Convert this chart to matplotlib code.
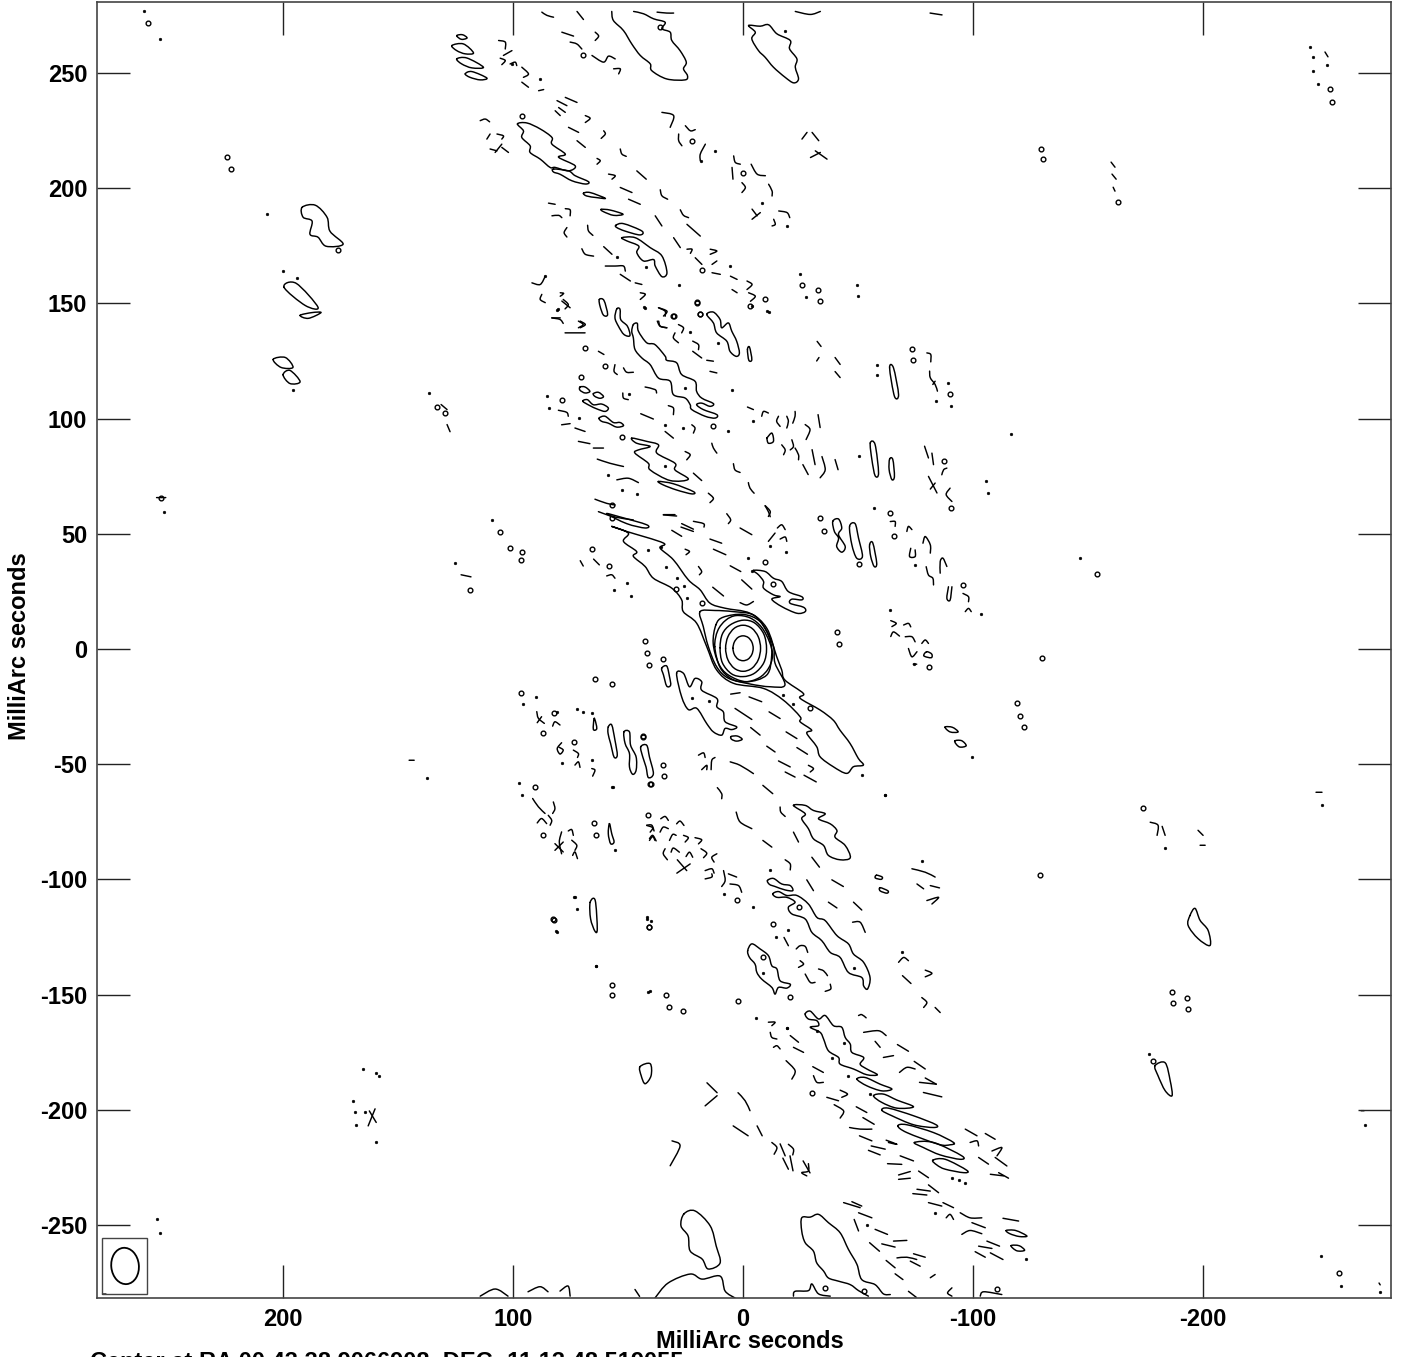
from matplotlib import pyplot as plt
from matplotlib.patches import Ellipse, PathPatch, Rectangle
from matplotlib.path import Path

# everything in milliarcsec offsets (RA, Dec)

X_TICKS = [200, 100, 0, -100, -200]
Y_TICKS = [250, 200, 150, 100, 50, 0, -50, -100, -150, -200, -250]
X_LABEL = "MilliArc seconds"
Y_LABEL = "MilliArc seconds"
CENTER_TEXT = "Center at RA 00 43 38.9066908, DEC -11 13 48.519055"

CORE_CONTOURS = [
    [(4.4, 0.3), (3.8, 3.0), (2.2, 5.0), (0, 5.7), (-2.2, 5.0), (-3.8, 3.0), (-4.4, 0.3), (-3.8, -2.4), (-2.2, -4.4), (0, -5.1), (2.2, -4.4), (3.8, -2.4)],
    [(7.6, 0.3), (6.6, 5.3), (3.8, 9), (0, 10.3), (-3.8, 9), (-6.6, 5.3), (-7.6, 0.3), (-6.6, -4.7), (-3.8, -8.4), (0, -9.7), (3.8, -8.4), (6.6, -4.7)],
    [(10, 0.5), (9, 6.5), (5.5, 10.5), (0, 12.5), (-5, 11.3), (-9, 6.5), (-10.2, 0), (-9, -6), (-5, -10.5), (0, -12), (5, -10.8), (9, -6)],
    [(12.3, 1), (11, 8), (7.5, 12.5), (3, 14.5), (-3, 13.5), (-8, 9.5), (-11.5, 3), (-12.8, -3), (-11, -8.5), (-7, -12.5), (-1, -14.3), (5, -13), (10, -8)],
    [(11.8, 10.5), (8.6, 13.8), (-0.1, 15), (-7.4, 11.9), (-11.7, 4), (-12.4, -3.3), (-10.3, -11.3), (-1.6, -14.2), (6.4, -11.3), (10.7, -6.2), (13, 2.5)],
    [(18.7, 16.2), (12.2, 16.7), (4.2, 16.2), (-4.5, 14.8), (-9.5, 9), (-13.2, 1), (-13.9, -6.2), (-18.2, -15.6), (-11.7, -16.4), (-3, -15.2), (6.4, -12.7), (11.5, -7.7), (15.1, 1), (17.3, 9.7)],
    [(57.1, 53.2), (50.6, 51), (34.7, 46), (36.1, 43.8), (30.3, 38.7), (23.8, 30), (18.7, 25.7), (14.4, 19.9), (7.9, 17.7), (-3, 15.5), (-10.3, 9), (-14.6, -3.3), (-16.8, -9.1), (-18.2, -13.5), (-26.2, -19.3), (-24.8, -21.4), (-33.5, -26.5), (-39.2, -30.9), (-42.1, -35.2), (-46.5, -41), (-50.1, -47.5), (-52.3, -50.4), (-48, -51.1), (-45, -54), (-39.2, -51.1), (-33.5, -46.8), (-32, -42.4), (-27.7, -36.6), (-29.8, -35.2), (-24.8, -31.6), (-24.8, -29.4), (-17.5, -22.2), (-8.8, -17.1), (4.2, -14.9), (11.5, -9.1), (15.8, 1), (20.2, 11.2), (26, 16.2), (26.7, 21.3), (31, 26.4), (39, 30.7), (42.6, 35.8), (47.7, 40.2), (46.3, 42.3), (52, 46.7), (49.9, 50.3)],
]

NORTH_BLOBS = [
    [(-2.4, 270.6), (-7.4, 270.3), (-11.1, 270.9), (-14.7, 267), (-20.5, 264.1), (-20.2, 260.5), (-23.4, 256.1), (-22.7, 252.5), (-24.1, 247.4), (-22, 245.7), (-18.3, 248.1), (-13.2, 252.5), (-9.6, 256.8), (-6.7, 259.7), (-3.8, 264.8), (-5.3, 267.7)],
    [(98.1, 227.9), (94, 228.3), (88.2, 225.7), (83.1, 222), (83.1, 219.1), (77.3, 214.8), (80.2, 213.4), (73, 209.7), (75.9, 207.5), (81.7, 209), (83.9, 209), (88.2, 212.6), (92.6, 215.5), (92.6, 218.4), (96.2, 222), (95.5, 224.9)],
    [(82.4, 208.3), (75.9, 207.5), (73, 205.4), (67.2, 202.8), (68.6, 201.8), (74.4, 203.2), (79.5, 206), (82.4, 207)],
    [(69.4, 197.8), (66.5, 198.1), (59.9, 195.6), (63.6, 195.9), (68, 196.6)],
    [(61.7, 190.8), (57.8, 190.5), (52.2, 188.7), (56.3, 188.2), (60.7, 189.8)],
    [(55.3, 183.9), (52, 184.6), (44, 181.4), (44.9, 179.7), (51.4, 181.4), (54.9, 182.9)],
    [(52.7, 178.5), (46.9, 178.5), (40.4, 174.2), (35.3, 170.6), (33.1, 163.3), (35.3, 161.6), (38.2, 166.2), (38.9, 169), (43.3, 168.4), (46.2, 172), (45.4, 174.9), (50.5, 177.1)],
    [(126.6, 261.9), (121.6, 262.6), (117.2, 258.7), (120.8, 258.3), (124.5, 259.7)],
    [(124.5, 256.1), (120.1, 256.5), (112.9, 252.5), (117.9, 252.2), (122.3, 253.9)],
    [(120.8, 249.6), (117.9, 250.6), (111.4, 247.8), (114.3, 247), (118.7, 248.1)],
    [(124.5, 266.2), (122, 266.6), (120, 265.2), (122.5, 264.6)],
    [(191.7, 191.7), (186, 192.6), (180.9, 187.4), (179.6, 181.3), (173.9, 175.7), (181.3, 174.8), (184.8, 178.7), (188.3, 180), (187.4, 185.7), (191.3, 187.4)],
    [(199.6, 157), (194.3, 158.7), (184.8, 148.3), (190.4, 149.1)],
    [(192.6, 144.8), (187.4, 146), (183.5, 146), (189, 143.5)],
    [(204.3, 125.7), (199, 126.5), (195.7, 122.2), (200.9, 122.2)],
    [(200, 119), (197, 120.9), (192.6, 116), (197, 115.2)],
    [(54.9, 147.6), (53.5, 147.4), (53.2, 143), (50.3, 140.1), (49.2, 136), (51.8, 136.5), (54.2, 140.1), (55.7, 143.7)],
    [(47.7, 140.8), (46, 141.3), (45.5, 137.9), (41.9, 132.9), (38.3, 132.1), (33.9, 127.1), (33.2, 125.3), (28.9, 124.2), (26.7, 119.1), (20.9, 116.2), (20.2, 111.8), (18, 108.9), (12.9, 106.5), (14.4, 105.3), (18, 106.7), (20.2, 106), (17.3, 103.9), (11.4, 101.7), (12.2, 100.2), (16.5, 101), (22.3, 103.9), (23, 106), (25.2, 108.9), (30.3, 110.4), (31.7, 116.2), (36.8, 117.6), (40.4, 123.4), (44, 126.3), (47, 130), (47.7, 135), (48.4, 137.9)],
    [(15.8, 145.2), (12.9, 146.2), (10, 143), (9.3, 139.4), (6.4, 141.5), (4.9, 137.9), (2.8, 133.6), (1.6, 128.5), (3, 127), (5.7, 129.2), (7.1, 133.6), (11.5, 137.2), (12.9, 141.5)],
    [(-1.9, 130), (-2.8, 131), (-3.8, 125.6), (-2.5, 125.3)],
    [(62.5, 151.7), (60.5, 151.3), (58.9, 145.2), (60.7, 144.9), (62.2, 148.8)],
    [(48.4, 91.5), (41.9, 90.1), (36.8, 88.6), (37.5, 85), (29.6, 80.6), (29.6, 77.7), (23.8, 73.7), (31.7, 73.1), (40.4, 77.7), (41.2, 80.6), (47, 85), (45.5, 86.4), (40.4, 87.9), (46.3, 89.3)],
    [(36.8, 72.7), (30.3, 71.7), (21.6, 68.3), (22.3, 67.3), (28.9, 69), (34.7, 71.2)],
    [(70.9, 113.7), (68.7, 113.7), (66.6, 111.8), (68.7, 111.1), (70.9, 112.3)],
    [(65.1, 110.8), (62.9, 111.4), (60.7, 109.6), (62.2, 108.8), (64.4, 109.6)],
    [(69.7, 107.5), (67.7, 108.2), (65.1, 106), (61.5, 106.3), (58.6, 104.6), (60, 103.1), (63.6, 104.2), (66.6, 105.6)],
    [(62.6, 100.2), (60, 101), (56.4, 98.3), (53.5, 98.3), (52, 96.9), (55, 96.3), (58.6, 98), (61.5, 98.8)],
    [(59.3, 58.7), (53.5, 57.3), (41.9, 53.9), (42.6, 52.5), (50.6, 54.4)],
    [(-4.5, 34.1), (-9.6, 33.6), (-13.2, 30.7), (-16.8, 29.3), (-19.7, 24.9), (-25.5, 22.7), (-25.5, 21.3), (-21.2, 21.6), (-20.5, 19.8), (-26.3, 18.1), (-27, 16.2), (-23.4, 15.5), (-16.8, 18.4), (-12.5, 21.6), (-16.1, 22.7), (-13.2, 23.5), (-8.9, 26.4), (-8.9, 29.3), (-6.7, 32.2)],
    [(-39, 55.4), (-41.5, 56.4), (-42.9, 52.5), (-41.5, 49.6), (-44.4, 44.5), (-42.9, 42), (-40.7, 44.5), (-41.5, 48.1), (-39.7, 51)],
    [(-46.3, 53.2), (-48.7, 54.4), (-50.2, 48.1), (-51.9, 40.2), (-49.4, 39.4), (-47.3, 45.2)],
    [(-55, 45.2), (-56.4, 46), (-58.1, 37.2), (-57, 35.8), (-55.5, 40.1)],
    [(-63.7, 122), (-65.4, 122), (-67.6, 110.4), (-65.8, 109.7)],
    [(-55.3, 89.4), (-57.4, 88.7), (-58.9, 76.4), (-57.4, 75.2), (-56, 82.2)],
    [(-63.7, 82.4), (-65.1, 82.2), (-65.8, 74.9), (-64.7, 73.5), (-63.5, 77.8)],
]

SOUTH_BLOBS = [
    [(28.9, -10.6), (25.9, -10.6), (23.3, -16.4), (20.9, -12.8), (18, -14.2), (18, -17.9), (11.4, -21.5), (11.4, -25.1), (8.6, -27.3), (7.8, -31.6), (2.8, -33.8), (4.9, -35), (7.8, -34.5), (9.3, -37.4), (12.9, -36), (15.8, -32.4), (20.1, -25.8), (23.8, -26.3), (26.7, -20.8)],
    [(5.2, -38), (2.5, -37.8), (0.4, -39.2), (2.8, -40), (5, -39.2)],
    [(58.6, -33.8), (57.1, -33), (55.7, -39.6), (54.7, -46.1), (56.1, -46.9), (57.6, -41), (58.7, -36.7)],
    [(51.8, -36), (49.4, -36), (48.9, -41.8), (46.5, -46.9), (46.5, -52.6), (48, -54.4), (49.4, -51.2), (49.4, -45.4), (51.3, -41)],
    [(44.5, -42.5), (41.9, -41.8), (40.7, -46.9), (39, -54.1), (41.2, -55.8), (42.2, -51.2), (43.6, -46.9)],
    [(35.4, -8.4), (33.2, -7.4), (32, -12), (31.5, -15.7), (33.2, -16.1), (34.6, -11.3)],
    [(-21.9, -67.9), (-27, -67.9), (-30.6, -70.1), (-35.7, -71.5), (-32.8, -73.7), (-37.9, -75.9), (-40.8, -78.8), (-40, -81.7), (-44.4, -85.3), (-46.6, -90.6), (-42.2, -91.5), (-37.1, -89.6), (-35, -85.3), (-30.6, -82.4), (-28.4, -78), (-25.5, -73.7), (-27, -71.5)],
    [(-10.6, -100.5), (-13.2, -99.6), (-16.8, -102), (-20.5, -102.7), (-21.6, -104.9), (-18.3, -104.6), (-13.9, -103.1), (-11.5, -102.2)],
    [(-12.9, -106.3), (-15.4, -105.3), (-19, -107), (-23.4, -107), (-28.4, -110.7), (-32.1, -116.5), (-35.7, -117.9), (-40.8, -124.4), (-45.8, -128), (-48, -132.4), (-52.4, -136), (-55.2, -142.6), (-54.1, -147.6), (-52.4, -146.2), (-51.6, -142.6), (-45.8, -140.4), (-42.2, -133.9), (-37.9, -131.7), (-34.2, -126.6), (-29.9, -123), (-27, -117.2), (-21.2, -115), (-19.7, -112.1), (-22.6, -109.9), (-19, -107.8), (-14.7, -107.8)],
    [(-2, -131), (-3.8, -128), (-7.4, -130.2), (-11, -133.1), (-12.5, -137.5), (-14.7, -138.9), (-16.1, -144), (-20.5, -145.5), (-19, -147.2), (-15.4, -146.9), (-13.9, -149.8), (-12.5, -146.9), (-8.1, -143.3), (-6, -140.4), (-5.2, -136.8), (-2.8, -133.9)],
    [(-27, -158.4), (-29.2, -157.2), (-32.8, -160.6), (-35.7, -159.1), (-39.3, -163.5), (-42.9, -164.2), (-44.4, -168.6), (-46.6, -171.5), (-47.3, -175.1), (-52.4, -177.3), (-50.9, -180.2), (-53.8, -182.3), (-58.4, -184.8), (-53.8, -184.8), (-48, -182.3), (-42.2, -180.2), (-41.5, -177.3), (-37.1, -174.4), (-35, -169.3), (-33.5, -166.4), (-29.2, -164.2), (-32.8, -163.5), (-32, -161.3), (-28.4, -160.6)],
    [(-49.5, -186.7), (-53.1, -186), (-59.6, -188.9), (-64.7, -191), (-60.3, -191.8), (-53.8, -189.6)],
    [(-56.7, -193.9), (-61, -193.2), (-66.9, -195.8), (-74.1, -198.7), (-66.9, -199.3), (-60.3, -196.8)],
    [(-60.3, -200.2), (-63.2, -199.3), (-74.1, -202.6), (-83.9, -206.5), (-82.8, -207.7), (-74.1, -206.5), (-64.7, -202.6)],
    [(-67.3, -207), (-71.2, -206.5), (-82.8, -209.9), (-91.5, -214.2), (-90, -215.2), (-85, -215), (-71.2, -209.9)],
    [(-74.5, -214.2), (-82.8, -214.2), (-95.1, -220), (-94.4, -221.5), (-85.7, -219.6), (-78.4, -216.4)],
    [(-82.5, -221.9), (-87.9, -221.5), (-97.3, -226.3), (-95.9, -227.3), (-87.9, -225.8), (-84.3, -224)],
    [(25.7, -245.2), (20.9, -243.9), (14.3, -250.4), (11.7, -259.1), (10, -266.5), (15.2, -269.1), (17.8, -264.8), (23, -261.3), (23.9, -254.8), (27, -250.4)],
    [(44.8, -181.3), (40.4, -180), (40, -185.2), (42.6, -188.7), (44.3, -185.2)],
    [(-179.1, -180.9), (-183.5, -179.6), (-185.7, -187.4), (-186.5, -193.9), (-183.5, -191.7), (-180.4, -185.2)],
    [(-194.3, -115.7), (-196.5, -112.6), (-198.7, -117.8), (-202.2, -122.2), (-203, -128.7), (-197.8, -125.7), (-193.5, -120)],
    [(66.5, -110), (64.3, -109.1), (63.4, -121.5), (64.4, -122.5), (66.3, -117.1)],
    [(58.1, -75.8), (57.1, -80.2), (56.1, -83.8), (57.6, -84.5), (58.6, -80.2)],
    [(64.7, -30.1), (63.6, -34.5), (65.1, -34.9)],
    [(-114.4, -252.4), (-118.5, -252.4), (-123.4, -254.8), (-120, -255), (-116, -253.8)],
    [(-116.5, -259), (-120, -259), (-122.4, -261), (-119, -261.2)],
    [(-87.8, -33.9), (-91, -34), (-93.5, -36), (-90, -36)],
    [(-92, -40), (-95, -39.8), (-97, -42), (-94, -42.5)],
    [(-79.8, -1.2), (-82, -2.2), (-81.8, -3.8), (-78.6, -3)],
    [(-58, -98.2), (-60.5, -99), (-60, -100), (-57.5, -99.4)],
    [(-59.6, -103.6), (-63, -105), (-62.5, -106), (-59.6, -105)],
]

# contours that run off the frame
OPEN_EDGE_CONTOURS = [
    [(57.1, 276.7), (56.4, 272.8), (52, 268.4), (48.4, 262.6), (44.7, 257.6), (40.4, 254), (39.7, 251), (33.2, 247.4), (25.2, 247), (24.2, 248.9), (25.9, 251.8), (24.7, 254.7), (27.4, 259.7), (31, 264.1), (31.7, 267.7), (35.3, 269.2), (33.9, 272), (38.9, 273.5), (43.3, 275.7), (47.6, 276.7)],
    [(-54.5, -280.9), (-50.2, -278.5), (-46.6, -275.9), (-41.5, -274.4), (-37.1, -273), (-35, -270), (-32, -266.4), (-30.6, -261.4), (-27, -257.7), (-25.5, -252.6), (-25.5, -246.9), (-29.2, -246.6), (-32.8, -245.4), (-37.1, -249), (-42.2, -253.4), (-45.8, -260.6), (-49.5, -267.1), (-51.6, -273.7), (-57.4, -275.9), (-61, -279.9), (-64, -280.2)],
    [(-21.9, -280.9), (-22.6, -278.8), (-28.4, -278.5), (-29.9, -275.6), (-32.8, -279.9), (-37.9, -280.9)],
    [(38.3, -281.7), (32.6, -275.2), (23, -271.3), (17.8, -273.5), (10, -272.2), (7.8, -278.7), (3.5, -281.7)],
    [(114.3, -280.9), (107.8, -277.8), (102.2, -280.9)],
]

SHORT_ARCS_NORTH = [
    [(87.5, 276.4), (85.3, 275), (82.4, 274.2)], [(72.2, 276.7), (69.4, 273.2)], [(37.4, 276.4), (33.2, 276), (30.2, 276)],
    [(-22.7, 276.7), (-29.2, 275.4), (-33.6, 276.7)], [(78.8, 267.7), (73.7, 266)], [(64.3, 267.7), (62.8, 266), (64.3, 264.1)],
    [(75.2, 263.4), (72.3, 262.6), (70.1, 260.4)], [(65.7, 257.6), (60.7, 254.7), (58.5, 257.3), (55.6, 256.1)], [(56.3, 251.8), (53.4, 251.8), (54.1, 249.6)],
    [(106.3, 264.1), (103.4, 263.4), (103.4, 260.4)], [(100.5, 259.7), (104.2, 257.6)], [(105.6, 256.4), (103.4, 255.4), (104.9, 253.6)],
    [(101.3, 253.9), (99.1, 254.7), (98.4, 253.2)], [(96.2, 252.5), (93.3, 249.6), (95.5, 248.1)], [(96.2, 246), (93.3, 243.8)],
    [(88.9, 242.3), (86.7, 242.8)], [(80.9, 238), (76.6, 235.8)], [(77.3, 239.4), (72.2, 237.2)], [(81.7, 233.6), (79.5, 231.5)], [(80.2, 235), (77.3, 232.9)],
    [(68.6, 231.5), (66.5, 230.3), (68.6, 228.5)], [(75.9, 226.4), (71.5, 224.2)], [(60.6, 224.9), (59.9, 223.5), (61.7, 221.6)], [(72.2, 220.6), (68.6, 217.7)],
    [(53.4, 217), (52.7, 214.8), (50.8, 213.8)], [(63.5, 212.9), (62.1, 211.9), (63.5, 210.4)], [(46.2, 207.5), (42.1, 203.9)], [(58.5, 206.1), (55.6, 205.4), (57, 203.9)],
    [(53.4, 200.3), (48.3, 198.1)], [(49.8, 195.2), (44.7, 193)], [(36, 199.3), (35.3, 196.7), (32.8, 195.2)], [(38.2, 188), (35.3, 183.6)],
    [(27.3, 190.6), (25.9, 188.2), (23.7, 187.2)], [(84.6, 193.5), (81.7, 193)], [(83.1, 188), (80.2, 188.2), (78.8, 187.2)], [(77.3, 191.1), (75.2, 190.6), (75.2, 188)],
    [(76.6, 182.9), (77.8, 180.7), (76.6, 178.8)], [(67.6, 183.9), (67.2, 181.4), (65.3, 179.5)], [(70.1, 173.7), (68.6, 171.3), (65, 170.5)], [(60.6, 174.6), (57, 171.3)],
    [(30.2, 178.5), (27.3, 174.2)], [(24.4, 184.3), (18.6, 179.2)], [(24.4, 173.5), (22.2, 173.5), (22.9, 171.7)], [(14.3, 173.5), (11.4, 172.7), (14.3, 171.3)],
    [(20.8, 169.8), (17.9, 166.9)], [(11.4, 168.4), (13.5, 166.9)], [(13.5, 163.3), (9.9, 162.6)], [(59.9, 166.2), (55.6, 166.2), (52, 166.2), (51.2, 164)],
    [(53.4, 162.6), (49, 159.7)], [(46.9, 158.9), (44, 158.2)], [(44.7, 154.6), (42.5, 153.9), (44.7, 151.7)], [(5.5, 161.8), (2.6, 160.4)], [(4.8, 156), (2.6, 154.6)],
    [(-1.7, 159.7), (-3.9, 158.2), (-1.7, 156)], [(-2.4, 154.6), (-5.3, 153.1), (-3.2, 150.9)], [(91.8, 158.9), (88.2, 158.2), (86, 161.8)], [(87.5, 153.9), (88.2, 151.7), (86, 150.3)],
    [(79.5, 154.6), (78, 154.3), (79.5, 153.1)], [(78.8, 151), (75.2, 148.1)], [(83.1, 143.7), (79.5, 143.7)], [(70.8, 142.3), (68.6, 140.8), (70.8, 139.4)],
    [(36.7, 148.1), (33.1, 146.6), (34.6, 144.5)], [(36.7, 142.3), (36, 140.1), (33.1, 139.4)], [(35.3, 232.9), (30.2, 231.5), (31.7, 226.4)], [(25.1, 227.1), (22.9, 224.9), (20.8, 225.4)],
    [(28, 223.5), (28, 220.6), (26.6, 218.4)], [(16.4, 219.1), (18.6, 214.8), (18.6, 211.9)], [(-25.6, 221.3), (-27.8, 224.2)], [(-30, 224.2), (-32.9, 220.6)],
    [(-29.3, 213.3), (-33.6, 215.5)], [(-31.4, 216.2), (-36.5, 212.6)], [(4.1, 214), (3.4, 211.2), (1.2, 210.4)], [(4.8, 209), (4.4, 203.9)],
    [(-3.5, 210.4), (-6.1, 206.1), (-9.7, 205.4)], [(0.5, 202.4), (-1, 200.3), (0.5, 198.1)], [(-11.1, 201.7), (-12.6, 198.8), (-12.6, 196.6)],
    [(-3.9, 190.9), (-6.1, 188)], [(-7.5, 189.4), (-3.9, 186.5)], [(-15.5, 190.1), (-19.1, 189.4), (-20.3, 187.2)], [(-13.3, 186.5), (-14, 184.3), (-12.6, 183.6)],
    [(114.3, 229.3), (112.1, 230), (110.2, 228.8)], [(111.4, 221.3), (110, 223.5)], [(107, 223.5), (104.2, 222.7), (104.9, 221.3)], [(110, 217), (107, 216.2)],
    [(107.8, 215.5), (104.9, 219.1)], [(104.9, 217.7), (102, 215.5)], [(-81.3, 276), (-86.5, 275.2)],
    [(78.2, 151.7), (76, 149.5), (77.4, 147.6)], [(83.2, 143.7), (79.6, 143), (78.2, 141.3)], [(71.6, 142.3), (69.5, 140.8), (71.6, 139.4)], [(77.4, 137.2), (73.1, 137.2), (68.7, 137.2)],
    [(62.9, 129.2), (60.5, 127.8)], [(55.7, 123.4), (56.1, 120.5), (54.7, 119.1)], [(52, 122), (50.6, 120.1), (47.7, 120.1)], [(36.8, 148.1), (33.9, 146.6), (33.9, 144.4)],
    [(37.3, 142.3), (36.1, 140.1), (33.2, 139.4)], [(28.1, 140.8), (25.9, 139.4), (26.7, 137.2)], [(29.6, 137.2), (30.3, 135), (28.1, 132.9)], [(21.9, 133.6), (19.4, 132.1), (19.4, 129.9)],
    [(21.9, 129.2), (18, 126.3)], [(15.8, 125.3), (12.9, 124.9)], [(14.4, 120.5), (11.4, 119.8)], [(52.3, 111.1), (52, 108.9), (49.9, 108.2)], [(42.6, 113.7), (38.3, 112.6), (37.6, 111.1)],
    [(32.5, 105.6), (30.3, 104.6), (30.3, 101.7)], [(44.5, 102.1), (39, 99.8)], [(33.9, 94.4), (30.3, 91.5)], [(22.3, 97.3), (20.9, 95.9), (21.6, 93.7)],
    [(80.3, 103.6), (76.7, 102.7), (76, 101)], [(78.9, 97.3), (75.2, 97.8)], [(73.1, 95.9), (68.7, 94.4)], [(71.6, 90.1), (66.6, 89.1)], [(65.1, 87.2), (60.7, 87.2)],
    [(63.4, 82.4), (57.9, 80.6), (52, 79.2)], [(54.9, 73.4), (49.9, 74.1), (45.5, 72.2)], [(21.6, 76.3), (18, 73.1)], [(25.2, 85.7), (23, 84.3), (24.5, 82.1)],
    [(13.6, 89.3), (12.9, 87.2), (11.4, 85)], [(4.2, 80.4), (3.5, 77.7), (1.3, 76.6)], [(-2.3, 72.2), (-3, 69.8), (-4.8, 67.6)], [(15.1, 67.6), (12.9, 65.4), (14.4, 63.5)],
    [(-9.6, 62.1), (-11, 59.6), (-11.8, 57.4)], [(34.7, 58.2), (28.9, 57.7)], [(62.9, 59.6), (56.4, 57.4), (47.7, 56)], [(64.4, 65), (59.3, 63.2), (55.7, 62.5)],
    [(-1.9, 105), (-4.5, 103.9)], [(-8.1, 101), (-8.9, 103.1), (-11, 102.4)], [(-15.4, 101), (-14.6, 98.8), (-16.1, 96.6)], [(-19, 101), (-19.7, 98.8), (-19, 95.9)],
    [(-22.6, 103.1), (-22.6, 101), (-21.6, 98)], [(-10.3, 91.5), (-12.5, 93.7), (-13.2, 90.1), (-11, 89.3), (-10.3, 91.5)], [(-16.8, 88.6), (-18.3, 86.4), (-17.6, 84.3)],
    [(-21.2, 90.8), (-21.9, 87.9), (-20.5, 86.4)], [(-22.6, 87.2), (-24.1, 84.3), (-24.1, 82.1)], [(-27, 97.4), (-29.1, 95.2), (-27.4, 90.9)], [(-32.6, 101.7), (-33.5, 96.1)],
    [(-30, 86.5), (-31.3, 80)], [(-34.3, 83.5), (-35.7, 77.8), (-33.5, 74.3)], [(-40, 82.2), (-41.3, 77.8)], [(-26, 80), (-28.3, 75.7)],
    [(34.6, 58.3), (29.6, 58.3)], [(26.7, 54.4), (21.6, 52)], [(27, 52.9), (21.6, 51)], [(21.6, 55.4), (17.2, 54.4), (17, 52.9)], [(31, 51.5), (26.7, 48.9)],
    [(7.1, 58.7), (5.4, 56.1), (6.4, 54.4)], [(1.3, 52.5), (-3.8, 49.6)], [(-9.6, 62.2), (-11.8, 59.7), (-11, 57.5)], [(-14.9, 52.5), (-16.8, 53.9), (-18.3, 51.8)],
    [(-13.9, 50.3), (-11, 46.7)], [(-16.1, 47.7), (-18.3, 48.6), (-19, 46.7)], [(14.4, 47.7), (9.3, 45.9)], [(12.9, 43.3), (7.5, 40.9)], [(25.2, 43.3), (23.3, 42.3), (24.8, 40.9)],
    [(19.4, 35.8), (18, 33.6), (19, 32.2)], [(5.6, 36.1), (1, 33.6)], [(0.6, 30), (-3.8, 26)], [(13.2, 26.8), (8.5, 23)], [(1.3, 20.1), (-1.6, 19.1), (-4.5, 20.6)],
    [(59.3, 31.7), (57.1, 32.2), (55.7, 30.7)],
    [(-79.9, 128.5), (-81.6, 127.8), (-81.6, 124.6)], [(-81.1, 120.6), (-81.4, 117.7), (-83.5, 114.8), (-84.5, 111.9)], [(-83.5, 116.2), (-82.5, 114.8)],
    [(-78.9, 88), (-80.6, 82.9)], [(-82.1, 85), (-82.8, 80)], [(-86.4, 75.6), (-87.2, 77.8), (-88.6, 78.5)], [(-80.6, 74.9), (-84.3, 67.7)], [(-83.5, 72), (-81.4, 69.4)],
    [(-90, 69.8), (-88.3, 67), (-90.8, 64)], [(-64, 55.3), (-66.1, 55.3), (-66.1, 53.2)], [(-71.2, 51), (-71.9, 53.2), (-73.4, 51.8)], [(-78.2, 45.9), (-79.2, 48.8), (-81.4, 45.2), (-81.4, 41.6)],
    [(-72.9, 43.7), (-72.4, 40.1), (-74.8, 40.1), (-74.8, 43)], [(-79.6, 35.7), (-80.6, 32.1), (-82.5, 30.7), (-82.8, 27.8)], [(-85.7, 32.9), (-85.7, 37.9), (-86.9, 39.4), (-88.6, 35.8)],
    [(-89.3, 27), (-88.6, 22), (-90, 21.2), (-90.8, 27)], [(-95.6, 24.1), (-98, 22.7), (-98, 20.5)], [(-96.6, 16.2), (-98, 17.6), (-99.2, 16.2)], [(-64.2, 12.3), (-66.6, 11.1), (-64.7, 9.7)],
    [(-64.2, 5.4), (-65.4, 7.4), (-68, 5.6)], [(-69.8, 10.4), (-71.9, 11.1), (-72.9, 9.6)], [(-70.5, 5.3), (-73.4, 5.3), (-74.8, 3.1)], [(-77.7, 2.4), (-79.2, 3.9), (-80.6, 2.4)],
    [(-71.9, 0.2), (-73.4, -3.4), (-75.6, -1.2)], [(-74, -6.6), (-75.5, -6.6)],
    [(-32.2, 133.5), (-33.9, 131.3)], [(-33, 126.5), (-32, 125)], [(-40, 126.5), (-42.2, 123.5)], [(-40, 120.4), (-42.2, 117.8)],
    [(-160, 211.3), (-161.7, 209.1)], [(-160.4, 206.1), (-162.2, 203.9)], [(-160.9, 200.4), (-161.7, 198.7)], [(-253, 259.1), (-254.3, 257)],
    [(131.3, 106.1), (128.7, 103.9)], [(128.7, 97.4), (127.4, 94.3)], [(122.6, 32.2), (118.3, 31.3)], [(255, 65.7), (251, 65.7)],
    [(70.8, 38.3), (69.5, 36)], [(65, 39), (62.5, 36.5)],
]

SHORT_ARCS_SOUTH = [
    [(5.4, -19.6), (1.3, -19)], [(-2.6, -20.8), (-8.1, -22.9)], [(3.5, -25.8), (-3.8, -30.6)], [(-11.3, -27.3), (-16.1, -30.2)], [(-3.3, -34.1), (-7.4, -37.4)],
    [(-18.7, -36), (-23.4, -38.9)], [(-10.3, -42.2), (-13.9, -44.7)], [(-23.4, -42.8), (-28, -45.7)], [(-15.4, -48.6), (-20.5, -51.2)], [(-18.3, -53.4), (-22.6, -55.6)],
    [(-26.5, -54.8), (-31.8, -57.7)], [(-28.4, -50.5), (-30.6, -51.9), (-29.2, -53.4)], [(5.6, -49), (1.3, -50.5), (-4.5, -54.1)], [(-8.6, -59.2), (-12.9, -62.8)],
    [(11.2, -60.2), (9.3, -62.8), (9.3, -65)], [(19.4, -46.1), (17.2, -45.1), (16.5, -47.1)], [(18, -52.4), (15.8, -50.5), (15.8, -52.4)], [(13.9, -52.4), (13.6, -48.3), (12.2, -47.1)],
    [(3, -70.8), (1.3, -75.1), (-3.8, -78)], [(-16.1, -68.6), (-16.4, -70.8), (-18.3, -72.7)], [(-21.9, -79.5), (-24.1, -83.8)], [(-8.6, -83.1), (-12.5, -86)],
    [(-18.3, -91.5), (-20.5, -93.3), (-20.5, -95.9)], [(-29.9, -90.4), (-33.2, -94.7)], [(-27.7, -100.2), (-30.6, -104.9)], [(-38.6, -100.2), (-43.6, -103.1)],
    [(-37.1, -109.9), (-40.8, -112.4)], [(-48, -109.9), (-51.6, -113.3)], [(-47.6, -118.6), (-50.9, -118.6), (-53.1, -123)],
    [(41.9, -76.6), (39.3, -77.6), (40.4, -79.5)], [(35.8, -73.7), (33.9, -72.7), (32.5, -74.4)], [(36.1, -79.5), (34.7, -77.3), (32.5, -78)], [(28.9, -75.9), (27.4, -74.7), (25.7, -76.6)],
    [(40.7, -83.1), (39.3, -81.4), (38.3, -83.1)], [(32, -83.1), (30.6, -80.5), (29.1, -80.9)], [(25.9, -80.9), (23.8, -81.9), (25.2, -83.8)], [(20.9, -81.9), (18, -82.8), (19.4, -84.6)],
    [(33.9, -86.7), (34.7, -88.9), (32.9, -91.5)], [(31.3, -88.2), (30.3, -86.4), (27.7, -88.2)], [(24.8, -90.1), (23.3, -88.2), (21.9, -90.4)], [(18.3, -86.7), (15.8, -88.6), (17.2, -90.6)],
    [(11.4, -88.9), (13.6, -90.4), (12.6, -92.5)], [(28.6, -91.5), (24.5, -96.2)], [(23, -93.3), (28.8, -97.3)], [(16.5, -96.2), (13.6, -95.4), (12.6, -97.3)], [(16.5, -99.8), (13.6, -99), (13.6, -97.6)],
    [(8.5, -96.2), (7.8, -100.5), (9.3, -103.1)], [(6.4, -97.6), (2.8, -99)], [(5.7, -102), (2, -102.7), (0.6, -105.6)], [(-17.8, -125.2), (-19.7, -128.8)],
    [(-23.1, -130.2), (-24.8, -128.8), (-27, -129.1), (-28.1, -131.7)], [(-24.8, -135.3), (-26.3, -136.8), (-24.1, -138.2)], [(-32.8, -138.9), (-35, -139.7), (-36.7, -141.8)],
    [(-27, -141.1), (-29.2, -144.7), (-31.3, -144.7)], [(-37.9, -145.5), (-38.1, -147.6), (-35.7, -148.6)], [(-67.6, -136), (-69.8, -133.9), (-71.9, -135.3)],
    [(-79.2, -139.4), (-82.1, -140.8), (-79.2, -142.3)], [(-69.3, -141.8), (-73, -145.2)], [(-77.7, -151.3), (-79.9, -153.4), (-78.5, -155.6)], [(-83.5, -155.6), (-85.7, -157.8)],
    [(-73.4, -95.4), (-79.2, -96.9), (-83.5, -99)], [(-75.6, -102), (-78.5, -104.1)], [(-81.4, -102.7), (-85.4, -103.7)], [(-79.9, -109.2), (-85, -107.8), (-82.1, -110.7)],
    [(-11, -162), (-13.9, -162), (-12.5, -163.5)], [(-11.8, -166.4), (-12.5, -168.6), (-14.7, -169.3)], [(-13.2, -172.9), (-14.7, -172.2), (-16.1, -173.6)], [(-20.5, -167.8), (-24.1, -170.7)],
    [(-21.9, -172.9), (-26.3, -175.1)], [(-18.7, -178.7), (-22.6, -183), (-21.2, -186.7)], [(-30.3, -181.3), (-34.9, -183.8)], [(-30.6, -185.2), (-32.1, -188.1), (-34.9, -188.1)],
    [(-36.4, -194.6), (-41.5, -196.1)], [(-42.2, -191.5), (-45.4, -193.2), (-42.9, -194.6)], [(-39.6, -197.8), (-43.7, -200.5), (-42.2, -203.6)], [(-49.2, -198.7), (-53.8, -201.2)],
    [(-52.1, -203.4), (-57, -206.3)], [(-46.3, -207.7), (-50.9, -208.4), (-56, -208.4)], [(-50.6, -211.3), (-56, -213.5)], [(-62.2, -213.2), (-66.9, -215), (-63.2, -214.2)],
    [(-55.7, -215.7), (-61.8, -217.1)], [(-54.5, -217.6), (-59.6, -219.6)], [(-62.8, -223.4), (-69, -223.7)], [(-68.3, -220), (-74.1, -222.2)], [(-67.6, -228.3), (-72.7, -226.8)],
    [(-67.6, -230.2), (-72.7, -229.7)], [(-76.3, -226.6), (-80.6, -229.5)], [(-73.8, -236.4), (-79.9, -237)], [(-75.6, -234.5), (-81.4, -235.3)], [(-80.6, -232.6), (-85, -236)],
    [(-80.6, -240.3), (-86.4, -241.8)], [(-86.9, -240.3), (-91.5, -242.5)], [(-88.3, -246.9), (-90, -245.4), (-91.5, -247.6)], [(-94.4, -244.7), (-98.7, -246.9), (-103.8, -246.9)],
    [(-99.5, -249), (-105.3, -251.2)], [(-95.1, -254.1), (-98.7, -252.4), (-103.8, -253.8)], [(-102.4, -259.2), (-108.2, -260.2)], [(-106, -257), (-111.5, -259.2)],
    [(-100.9, -261.6), (-105.3, -264)], [(-107.5, -262.1), (-113, -265)], [(-113, -247.1), (-119.8, -248.3)], [(-96.6, -208.4), (-101.7, -211.3)], [(-105.3, -210.3), (-109.6, -212.8)],
    [(-98.7, -214.2), (-101.7, -213.5), (-102.4, -215.7)], [(-108.2, -217.9), (-112.5, -216.4), (-110.4, -220)], [(-102.4, -220.7), (-106.7, -223.6)], [(-109.6, -220.7), (-114.7, -224.4)],
    [(-107.5, -228), (-113.3, -228.7)], [(-111.1, -227.3), (-115.4, -229.7)], [(-50.2, -159.1), (-51.6, -158.7), (-53.5, -160.1)], [(-52.4, -166.4), (-58.9, -165.7), (-62.2, -167.8)],
    [(-57.4, -170.3), (-59.6, -172.9)], [(-67.1, -171.7), (-71.9, -174.6)], [(-61, -177.3), (-65.4, -176.5)], [(-74.4, -179), (-79.2, -182.3)], [(-68, -183.8), (-71.2, -181.6), (-74.8, -182.3)],
    [(-76.7, -188.1), (-84, -188.9)], [(-79.2, -186.2), (-84, -188.9)], [(-78.4, -192.5), (-86.4, -194.4)], [(-43.7, -240.3), (-50.9, -242.5)], [(-47.3, -239.9), (-51.6, -241.8)],
    [(-50.2, -244.7), (-56, -246.9)], [(-48.3, -247.6), (-50.2, -252.6)], [(-57.4, -251.9), (-62.8, -254.1)], [(-55, -257.7), (-59.3, -261.4)], [(-60.3, -258.2), (-66.1, -259.6)],
    [(-65.4, -257), (-71.2, -256.7)], [(-66.9, -264.3), (-71.2, -264), (-75.5, -265)], [(-72.7, -265.7), (-77, -267.9)], [(-74.1, -262.5), (-79.2, -264)], [(-62.2, -265.4), (-66.1, -268.6)],
    [(-66.1, -271.2), (-69.5, -273.7)], [(-81.4, -272.9), (-83.5, -271.5)], [(-71.9, -278.8), (-75.3, -281.4)], [(-90.8, -277.3), (-88.9, -279.5), (-90.8, -280.9)], [(-103.1, -280.9), (-104.6, -279), (-112.5, -280.2)],
    [(-12.5, -214.2), (-14.7, -216.4), (-13.5, -219.3)], [(-19.7, -215), (-21.9, -217.1), (-21.6, -219.6)], [(-17.3, -221), (-19.7, -225.8)], [(-28.4, -223.4), (-28.4, -226.6), (-25.5, -227.3), (-27.7, -228.7)],
    [(89.7, -27.2), (89, -30.1), (86.4, -32.3)], [(87.6, -29.4), (89.5, -32)], [(82.8, -33.5), (81.8, -31.6), (79.6, -33)], [(78.9, -40.7), (80.8, -43.2), (79.6, -45.6), (78.2, -43.9), (79.9, -42.7)],
    [(73.8, -43.9), (71.6, -45.4), (72, -47.1)], [(73.1, -50.4), (71.6, -49), (70.9, -51.4)], [(65.8, -51.9), (64.4, -52.6), (65.4, -55.2)], [(91.5, -64.9), (89, -68.5), (86.1, -71.4)],
    [(82.5, -66.4), (81.8, -69.3), (82.8, -71.4)], [(89.5, -75.5), (87.6, -73.6), (85.4, -75.8)], [(84.7, -72.2), (83.2, -74.4), (83.9, -76.5)], [(78.9, -79.4), (79.9, -83.8), (78.9, -88.9)],
    [(81.8, -84.5), (78.2, -88.1)], [(78.2, -83.8), (81.8, -87.4)], [(76, -79), (74.5, -78.4), (73.8, -80.9)], [(74.5, -83), (72.3, -85.2), (73.1, -87.4)], [(74.1, -89.6), (73.1, -88.1), (72, -91)],
    [(41.9, -76.5), (39.7, -76.5), (38.7, -79)], [(40.7, -82.3), (39.3, -80.9), (37.8, -83.3)], [(15.7, -188.3), (11.3, -192.6)], [(16.5, -198.3), (11.3, -193.9)], [(2.2, -192.6), (-0.9, -196.1), (-3, -200.4)],
    [(4.3, -207), (-2.2, -211.3)], [(-6.1, -207), (-8.3, -211.3)], [(-16.1, -214.8), (-18.3, -220)], [(-20.4, -220), (-21.7, -226.5)], [(-26.1, -222.2), (-29.1, -227.4)],
    [(30.9, -213.5), (27.4, -215.7), (31.7, -224.3)], [(93.5, -279), (88.3, -276.8), (84.8, -279)], [(79.6, -278.7), (76.1, -276.5), (75.2, -280.9)], [(47, -278), (45, -281)],
    [(160, -199.6), (163, -207)], [(162.5, -200.5), (159.5, -205.5)], [(145.2, -48.3), (143, -48.3)], [(-249.1, -62.2), (-251.7, -62.2)], [(-268.7, -200.4), (-270, -200.4)],
    [(-177, -75.2), (-180.4, -76.5), (-180, -80.9)], [(-182.2, -77), (-183.5, -80.9)], [(-197.8, -78.7), (-200, -80.9)], [(-198.7, -85.2), (-200.9, -85.2)], [(-276.5, -275.2), (-277, -276)],
    [(278.5, -280), (277, -280)],
]

# tiny closed contours, no more than a few pixels across
ISLET_RA = [36.2, -9.7, -13.2, -24.5, -8.6, -20.5, 33.5, 32.2, 26, -35.8, -52.5, 176, 30.3, 20.2, 18.7, -3, 78.9, 68.7, 60, 70.5, 12.9, 52.8, 57.1, 58.1, 29.1, 18, -29.2, 42.6, 41.6, 40.9, 34.9, 57.1, 43.3, 34.9, 34.2, 40.5, -33.5, -35, -41, -41.9, -25.6, -32.6, -33.6, 22.2, 96.2, 0.2, 17.9, 20, 18.6, 30.2, -9.7, -12.9, 40.7, 64.4, 57.1, 96.7, 82.2, 87.1, 73.5, 43.4, 40, 90.6, 87.1, 64.8, 63.9, 41.2, 82.1, 40.9, 2, -29.9, 69.4, -73.8, -73.4, -87.2, -95.4, -90.5, -89.8, -65.8, -64, -50.6, -80.9, 224.3, 222.6, 133, 129.6, 105.7, 101.3, 96, 96.5, 118.7, -129.6, -130.4, -163, -255.2, -256, -130, -129.1, -173.9, -186.5, -187, -193, -193.5, -178.3, -259.1, -154, -119.1, -120.4, -122.2, 258.7, 253, 57, 57, 82.6, 2.8, -110.4, 65.7]
ISLET_DEC = [269.8, 37.8, 28, -112.1, -133.6, -151, -150.2, -155.3, -157, -277.3, -278.7, 173, 144.4, 150.3, 145.2, 149, 107.9, 130.7, 123, 117.9, 96.6, 92.2, 62.5, 35.8, 26.1, 19.8, -25.8, 3.5, -1.9, -7, -4.4, 56.8, -37.9, -50.2, -55.3, -58.7, 56.8, 51, 7.2, 2, 158, 155.6, 151, 220.6, 231.5, 206.5, 164.5, 150.5, 145.2, 144.4, 151.7, -119.4, -120.8, -13.2, -15.2, -19, -28, -36.4, -40.3, -38.1, -58.7, -60.1, -80.9, -75.5, -80.9, -72.2, -117.6, -120.8, -152.7, -192.9, 258, 125.4, 130.3, 81.4, 27.8, 61.1, 110.7, 49.1, 59.2, 36.9, -8, 213.5, 208.3, 105, 102.2, 50.9, 43.9, 42, 38.7, 25.7, 217, 212.6, 193.9, 243, 237.4, -4, -98.3, -69.1, -149.1, -153.5, -151.3, -156.1, -178.7, -270.9, 32.6, -23.5, -29.1, -33.9, 271.7, 65.7, -146, -150.4, -117, -108.9, -278, 43.5]

# specks that only just reach the lowest contour level
SPECK_RA = [-18.4, 88.2, 100.5, 54.8, 42.1, 12.1, 18.3, -8.2, -19.1, 27.7, 42.5, 81, 5.6, 86, -3.9, -11.1, 25.2, 4.9, 10.7, 23, 43.1, -10.3, 85.4, 84.2, 71.3, 49.4, 33.9, 26.2, 6.4, 58.6, 33.9, 52.5, 46.2, -4.5, 80.3, 50.3, 56.1, 48.9, 41.2, 35.8, 33.6, 28.6, 25.7, 24.2, -2.3, -3.8, -11.8, -18.7, -17.5, -21.6, 22.3, 15, -51.8, -61.8, 56.7, -61.8, -77.7, -11.8, 8.5, -4.5, 41.9, -19.7, -14.4, -48.4, -8.8, -69, 40.4, -5.7, -19, -19, -38.6, -45.8, -55, -90.8, -93.7, -96.6, -83.5, -53.8, -123.1, -58.2, -58.4, -89.3, -90.5, -83.8, -50.5, -105.6, -106.4, -116.6, -57.1, -103.5, -63.7, -74.8, -74.4, 97.4, 96.3, 90, 95.6, 72, 65.8, 78.9, 65.5, 56.8, 55.9, 73.5, 72.3, 81, 41.9, 63.9, 41.3, 260.4, 253.5, 207, 200, 193.9, 195.7, 251.7, 136.5, 109.1, 125.2, 137.4, 254.8, 253.5, 165.2, 159.6, 158.3, 164.3, 169.6, 168.7, 168.3, 159.6, -146.5, -246.5, -247.8, -247.8, -253.9, -250, -183.5, -251.7, -270.4, -251.3, -260, -277, -176.5, -99.6, -24.9, -27.4, -49.6, -50, 80.9, 69.6, 73, 63.9, 81.3, 40, -32, -44]
SPECK_DEC = [268.1, 247.4, 254, 170.3, 165.9, 216.2, 211.9, 193.5, 183.6, 157.8, 148.1, 147.3, 166.2, 161.8, 149, 146.2, 113.3, 112.3, 132.9, 137.5, 148.5, 146.6, 110, 104.6, 100.2, 110.8, 97.3, 95.9, 94.4, 75.6, 79.2, 69, 67.3, 98.8, 147.4, 28.6, 25.7, 23.2, 43, 44.1, 35.4, 30.7, 27.5, 22, 39.4, 34, 44.5, 42, -20, -24, -21.2, -22.6, -54.8, -63.5, -59.9, -63.5, -92.1, -95.9, -106.3, -111.8, -116.5, -121.8, -125.2, -138.5, -140.5, -131.7, -148.4, -160.2, -164.3, -164.3, -177.5, -185.2, -193.2, -229.5, -230.5, -231.6, -244.7, -250.2, -264.7, 123.2, 118.8, 115.5, 105.6, 107.8, 83.6, 73, 67.7, 93.5, 61.1, 15.2, 16.9, 36.3, -6.6, -58.1, -63.2, -21, -24, -26.2, -28, -49.4, -48, -59.8, -87.4, -107.7, -112.9, -122.9, -117.1, -137.4, -148.7, 276.9, 264.8, 188.7, 163.9, 161, 112.6, 59.6, 111.3, 56.1, 37.4, -56, -247.4, -253.5, -182.2, -183.9, -185.2, -201, -196.1, -200.9, -206.5, -213.9, 39.6, 261.3, 257, 250.9, 253.5, 245.2, -86.5, -67.8, -206.5, -263.5, -276.5, -279, -175.7, -47, 162.6, 152.7, 157.8, 153, -27.4, -27.4, -107.8, -137.4, -122.2, -118, -166, -171]

BEAM_RA = 268.7
BEAM_DEC = -267.8
BEAM_WIDTH = 12.0
BEAM_HEIGHT = 15.8
BEAM_BOX = (278.8, -280.0, 259.0, -255.8)


def smooth_path(points, closed):
    # curve through the read-off points, Catmull-Rom written as Bezier segments
    n = len(points)
    if closed:
        around = [points[-1]] + list(points) + [points[0], points[1]]
        segments = n
    else:
        around = [points[0]] + list(points) + [points[-1]]
        segments = n - 1
    verts = [points[0]]
    codes = [Path.MOVETO]
    for i in range(1, segments + 1):
        p0, p1, p2, p3 = around[i - 1], around[i], around[i + 1], around[i + 2]
        verts.append((p1[0] + (p2[0] - p0[0]) / 6, p1[1] + (p2[1] - p0[1]) / 6))
        verts.append((p2[0] - (p3[0] - p1[0]) / 6, p2[1] - (p3[1] - p1[1]) / 6))
        verts.append(p2)
        codes += [Path.CURVE4, Path.CURVE4, Path.CURVE4]
    return Path(verts, codes)


def draw_lines(ax, contours, closed=False):
    for contour in contours:
        ax.add_patch(PathPatch(smooth_path(contour, closed), fill=False, ec="black", lw=1.05, capstyle="round", joinstyle="round"))


plt.rcParams["font.family"] = ["Liberation Sans", "DejaVu Sans"]
plt.rcParams["font.weight"] = "bold"
plt.rcParams["axes.unicode_minus"] = False

fig = plt.figure(figsize=(14.03, 13.57), dpi=100)
ax = fig.add_axes([97 / 1403, 1 - 1298 / 1357, 1294 / 1403, 1296 / 1357])

draw_lines(ax, CORE_CONTOURS, closed=True)
draw_lines(ax, NORTH_BLOBS, closed=True)
draw_lines(ax, SOUTH_BLOBS, closed=True)
draw_lines(ax, OPEN_EDGE_CONTOURS)
draw_lines(ax, SHORT_ARCS_NORTH)
draw_lines(ax, SHORT_ARCS_SOUTH)

ax.plot(ISLET_RA, ISLET_DEC, ls="none", marker="o", ms=3.4, mfc="none", mec="black", mew=1.0)
ax.plot(SPECK_RA, SPECK_DEC, ls="none", marker="o", ms=2.0, mfc="black", mec="black", mew=0.3)

# beam inset, bottom left
x0, y0, x1, y1 = BEAM_BOX
ax.add_patch(Rectangle((x0, y0), x1 - x0, y1 - y0, fill=False, ec="#444444", lw=1.0))
ax.add_patch(Ellipse((BEAM_RA, BEAM_DEC), BEAM_WIDTH, BEAM_HEIGHT, angle=-6, fill=False, ec="black", lw=1.3))

ax.set_xlim(280.9, -281.7)
ax.set_ylim(-281.7, 280.8)
ax.set_xticks(X_TICKS)
ax.set_yticks(Y_TICKS)
ax.tick_params(axis="both", direction="in", length=23.8, width=1.0, color="#222222", top=True, right=True, labelsize=17, pad=7)
for spine in ax.spines.values():
    spine.set_color("#444444")
    spine.set_linewidth(1.2)

fig.text(750 / 1403, 1 - 1341 / 1357, X_LABEL, ha="center", va="center", fontsize=17, fontweight="bold")
fig.text(20 / 1403, 1 - 646 / 1357, Y_LABEL, ha="center", va="center", rotation=90, fontsize=17, fontweight="bold")
fig.text(90 / 1403, 1 - 1368 / 1357, CENTER_TEXT, ha="left", va="baseline", fontsize=17, fontweight="bold")

plt.savefig("out.png", dpi=100)
